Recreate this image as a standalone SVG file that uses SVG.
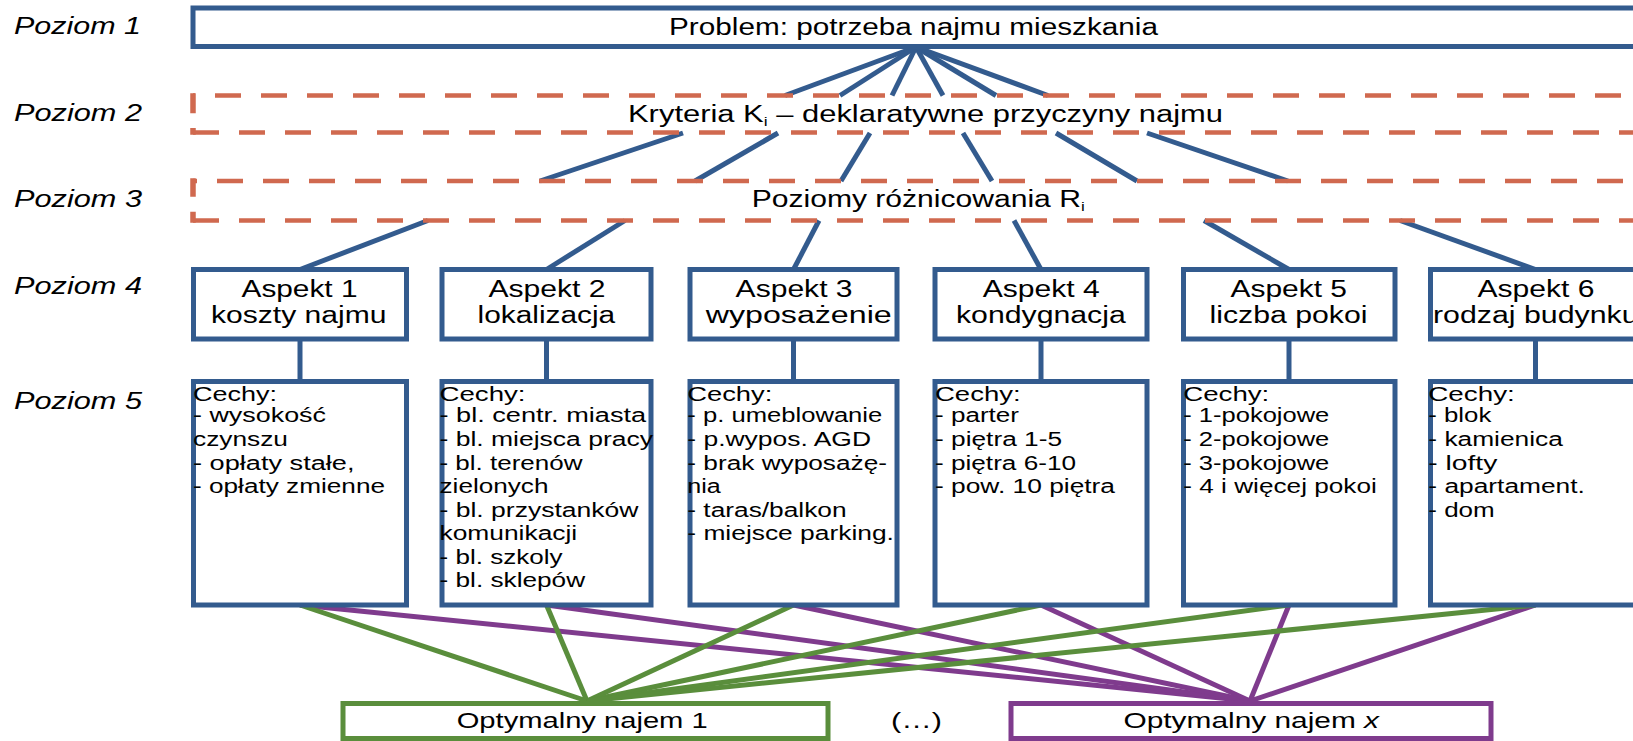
<svg xmlns="http://www.w3.org/2000/svg" width="1633" height="741" viewBox="0 0 1633 741">
<style>
text{font-family:"Liberation Sans",Arial,sans-serif;fill:#000}
.poz{font-style:italic;font-size:23.5px}
.hd{font-size:23px}
.asp{font-size:23.5px}
.ce{font-size:20px}
.opt{font-size:21.5px}
.box{fill:#fff;stroke:#335B8E;stroke-width:5}
.dash{fill:none;stroke:#D0694F;stroke-width:4.7;stroke-dasharray:26 20}
.dsol{fill:none;stroke:#D0694F;stroke-width:5.5}
.cb{stroke:#335B8E;stroke-width:5;fill:none}
.cg{stroke:#5A8E3C;stroke-width:5;fill:none}
.cp{stroke:#7F3B8D;stroke-width:5;fill:none}
.gbox{fill:#fff;stroke:#5A8E3C;stroke-width:5}
.pbox{fill:#fff;stroke:#7F3B8D;stroke-width:5}
</style>
<rect width="1633" height="741" fill="#fff"/>

<g id="connectors">
  <g id="c-l1-l2">
    <line class="cb" x1="916" y1="47" x2="785" y2="95.5"/>
    <line class="cb" x1="916" y1="47" x2="840" y2="95.5"/>
    <line class="cb" x1="916" y1="47" x2="892" y2="95.5"/>
    <line class="cb" x1="916" y1="47" x2="943" y2="95.5"/>
    <line class="cb" x1="916" y1="47" x2="996" y2="95.5"/>
    <line class="cb" x1="916" y1="47" x2="1048" y2="95.5"/>
  </g>
  <g id="c-l2-l3">
    <line class="cb" x1="683" y1="133" x2="540" y2="181"/>
    <line class="cb" x1="778" y1="133" x2="695" y2="181"/>
    <line class="cb" x1="870" y1="133" x2="841" y2="181"/>
    <line class="cb" x1="963" y1="133" x2="992" y2="181"/>
    <line class="cb" x1="1056" y1="133" x2="1137" y2="181"/>
    <line class="cb" x1="1147" y1="133" x2="1288" y2="181"/>
  </g>
  <g id="c-l3-l4">
    <line class="cb" x1="428" y1="220.5" x2="300" y2="269.5"/>
    <line class="cb" x1="625" y1="220.5" x2="546.5" y2="269.5"/>
    <line class="cb" x1="819" y1="220.5" x2="793.5" y2="269.5"/>
    <line class="cb" x1="1014" y1="220.5" x2="1041" y2="269.5"/>
    <line class="cb" x1="1204" y1="220.5" x2="1289" y2="269.5"/>
    <line class="cb" x1="1400" y1="220.5" x2="1535.5" y2="269.5"/>
  </g>
  <g id="c-l4-l5">
    <line class="cb" x1="300" y1="339" x2="300" y2="381.5"/>
    <line class="cb" x1="546.5" y1="339" x2="546.5" y2="381.5"/>
    <line class="cb" x1="793.5" y1="339" x2="793.5" y2="381.5"/>
    <line class="cb" x1="1041" y1="339" x2="1041" y2="381.5"/>
    <line class="cb" x1="1289" y1="339" x2="1289" y2="381.5"/>
    <line class="cb" x1="1535.5" y1="339" x2="1535.5" y2="381.5"/>
  </g>
  <g id="c-l5-optx">
    <line class="cp" x1="300" y1="605" x2="1250" y2="701"/>
    <line class="cp" x1="546.5" y1="605" x2="1250" y2="701"/>
    <line class="cp" x1="793.5" y1="605" x2="1250" y2="701"/>
    <line class="cp" x1="1041" y1="605" x2="1250" y2="701"/>
    <line class="cp" x1="1289" y1="605" x2="1250" y2="701"/>
    <line class="cp" x1="1535.5" y1="605" x2="1250" y2="701"/>
  </g>
  <g id="c-l5-opt1">
    <line class="cg" x1="300" y1="605" x2="587" y2="701"/>
    <line class="cg" x1="546.5" y1="605" x2="587" y2="701"/>
    <line class="cg" x1="793.5" y1="605" x2="587" y2="701"/>
    <line class="cg" x1="1041" y1="605" x2="587" y2="701"/>
    <line class="cg" x1="1289" y1="605" x2="587" y2="701"/>
    <line class="cg" x1="1535.5" y1="605" x2="587" y2="701"/>
  </g>
</g>

<g id="level-labels">
  <text class="poz" x="14" y="34" textLength="127" lengthAdjust="spacingAndGlyphs">Poziom 1</text>
  <text class="poz" x="14" y="120.7" textLength="128" lengthAdjust="spacingAndGlyphs">Poziom 2</text>
  <text class="poz" x="14" y="207.3" textLength="128" lengthAdjust="spacingAndGlyphs">Poziom 3</text>
  <text class="poz" x="14" y="294.3" textLength="128" lengthAdjust="spacingAndGlyphs">Poziom 4</text>
  <text class="poz" x="14" y="409.3" textLength="128" lengthAdjust="spacingAndGlyphs">Poziom 5</text>
</g>

<g id="n-problem">
  <rect class="box" x="193" y="8" width="1460" height="38.5"/>
  <text class="hd" x="669" y="35" textLength="489" lengthAdjust="spacingAndGlyphs">Problem: potrzeba najmu mieszkania</text>
</g>

<g id="n-kryteria">
  <path class="dsol" d="M193,93.3V113.3M193,128V134.8"/>
  <path class="dash" d="M193,95.5H1650" stroke-dashoffset="24"/>
  <path class="dash" d="M193,132.5H1650"/>
  <text class="hd" x="628" y="121.7" textLength="595" lengthAdjust="spacingAndGlyphs">Kryteria K<tspan font-size="13" dy="4">i</tspan><tspan dy="-4"> – deklaratywne przyczyny najmu</tspan></text>
</g>

<g id="n-poziomy">
  <path class="dsol" d="M193,178.3V196.7M193,211.7V222.8"/>
  <path class="dash" d="M193,181H1650" stroke-dashoffset="22"/>
  <path class="dash" d="M193,220.5H1650"/>
  <text class="hd" x="751.7" y="206.7" textLength="333" lengthAdjust="spacingAndGlyphs">Poziomy różnicowania R<tspan font-size="13" dy="4">i</tspan></text>
</g>

<g id="n-aspekt1">
  <rect class="box" x="193.5" y="269.5" width="213" height="69.5"/>
  <text class="asp" x="241.5" y="296.7" textLength="116" lengthAdjust="spacingAndGlyphs">Aspekt 1</text>
  <text class="asp" x="211" y="323.3" textLength="175.4" lengthAdjust="spacingAndGlyphs">koszty najmu</text>
</g>
<g id="n-aspekt2">
  <rect class="box" x="442" y="269.5" width="209" height="69.5"/>
  <text class="asp" x="488.5" y="296.7" textLength="117" lengthAdjust="spacingAndGlyphs">Aspekt 2</text>
  <text class="asp" x="477.5" y="323.3" textLength="137.7" lengthAdjust="spacingAndGlyphs">lokalizacja</text>
</g>
<g id="n-aspekt3">
  <rect class="box" x="690" y="269.5" width="207" height="69.5"/>
  <text class="asp" x="735.6" y="296.7" textLength="117" lengthAdjust="spacingAndGlyphs">Aspekt 3</text>
  <text class="asp" x="705.7" y="323.3" textLength="186" lengthAdjust="spacingAndGlyphs">wyposażenie</text>
</g>
<g id="n-aspekt4">
  <rect class="box" x="935" y="269.5" width="212" height="69.5"/>
  <text class="asp" x="982.7" y="296.7" textLength="117" lengthAdjust="spacingAndGlyphs">Aspekt 4</text>
  <text class="asp" x="956" y="323.3" textLength="169.7" lengthAdjust="spacingAndGlyphs">kondygnacja</text>
</g>
<g id="n-aspekt5">
  <rect class="box" x="1183.5" y="269.5" width="211.5" height="69.5"/>
  <text class="asp" x="1230.5" y="296.7" textLength="116.5" lengthAdjust="spacingAndGlyphs">Aspekt 5</text>
  <text class="asp" x="1209.5" y="323.3" textLength="158" lengthAdjust="spacingAndGlyphs">liczba pokoi</text>
</g>
<g id="n-aspekt6">
  <rect class="box" x="1430.5" y="269.5" width="213" height="69.5"/>
  <text class="asp" x="1477.4" y="296.7" textLength="117" lengthAdjust="spacingAndGlyphs">Aspekt 6</text>
  <text class="asp" x="1433" y="323.3" textLength="205.5" lengthAdjust="spacingAndGlyphs">rodzaj budynku</text>
</g>

<g id="n-cechy1">
  <rect class="box" x="193.5" y="381.5" width="213" height="223.5"/>
  <text class="ce" x="193" y="400.5" textLength="84" lengthAdjust="spacingAndGlyphs">Cechy:</text>
  <text class="ce" x="193" y="422" textLength="133" lengthAdjust="spacingAndGlyphs">- wysokość</text>
  <text class="ce" x="193" y="445.5" textLength="95" lengthAdjust="spacingAndGlyphs">czynszu</text>
  <text class="ce" x="193" y="469.5" textLength="161.5" lengthAdjust="spacingAndGlyphs">- opłaty stałe,</text>
  <text class="ce" x="193" y="493" textLength="192" lengthAdjust="spacingAndGlyphs">- opłaty zmienne</text>
</g>
<g id="n-cechy2">
  <rect class="box" x="442" y="381.5" width="209" height="223.5"/>
  <text class="ce" x="439.5" y="400.5" textLength="86" lengthAdjust="spacingAndGlyphs">Cechy:</text>
  <text class="ce" x="439.5" y="422" textLength="206.6" lengthAdjust="spacingAndGlyphs">- bl. centr. miasta</text>
  <text class="ce" x="439.5" y="445.5" textLength="213.5" lengthAdjust="spacingAndGlyphs">- bl. miejsca pracy</text>
  <text class="ce" x="439.5" y="469.5" textLength="143" lengthAdjust="spacingAndGlyphs">- bl. terenów</text>
  <text class="ce" x="439.5" y="493" textLength="109" lengthAdjust="spacingAndGlyphs">zielonych</text>
  <text class="ce" x="439.5" y="516.5" textLength="199" lengthAdjust="spacingAndGlyphs">- bl. przystanków</text>
  <text class="ce" x="439.5" y="540" textLength="137.7" lengthAdjust="spacingAndGlyphs">komunikacji</text>
  <text class="ce" x="439.5" y="563.5" textLength="123" lengthAdjust="spacingAndGlyphs">- bl. szkoly</text>
  <text class="ce" x="439.5" y="587" textLength="145.6" lengthAdjust="spacingAndGlyphs">- bl. sklepów</text>
</g>
<g id="n-cechy3">
  <rect class="box" x="690" y="381.5" width="207" height="223.5"/>
  <text class="ce" x="687.3" y="400.5" textLength="85" lengthAdjust="spacingAndGlyphs">Cechy:</text>
  <text class="ce" x="687.3" y="422" textLength="195" lengthAdjust="spacingAndGlyphs">- p. umeblowanie</text>
  <text class="ce" x="687.3" y="445.5" textLength="183.7" lengthAdjust="spacingAndGlyphs">- p.wypos. AGD</text>
  <text class="ce" x="687.3" y="469.5" textLength="199.7" lengthAdjust="spacingAndGlyphs">- brak wyposażę-</text>
  <text class="ce" x="687.3" y="493" textLength="33.5" lengthAdjust="spacingAndGlyphs">nia</text>
  <text class="ce" x="687.3" y="516.5" textLength="159.3" lengthAdjust="spacingAndGlyphs">- taras/balkon</text>
  <text class="ce" x="687.3" y="540" textLength="206.6" lengthAdjust="spacingAndGlyphs">- miejsce parking.</text>
</g>
<g id="n-cechy4">
  <rect class="box" x="935" y="381.5" width="212" height="223.5"/>
  <text class="ce" x="935" y="400.5" textLength="85.6" lengthAdjust="spacingAndGlyphs">Cechy:</text>
  <text class="ce" x="935" y="422" textLength="84" lengthAdjust="spacingAndGlyphs">- parter</text>
  <text class="ce" x="935" y="445.5" textLength="127" lengthAdjust="spacingAndGlyphs">- piętra 1-5</text>
  <text class="ce" x="935" y="469.5" textLength="141" lengthAdjust="spacingAndGlyphs">- piętra 6-10</text>
  <text class="ce" x="935" y="493" textLength="180" lengthAdjust="spacingAndGlyphs">- pow. 10 piętra</text>
</g>
<g id="n-cechy5">
  <rect class="box" x="1183.5" y="381.5" width="211.5" height="223.5"/>
  <text class="ce" x="1183.3" y="400.5" textLength="86" lengthAdjust="spacingAndGlyphs">Cechy:</text>
  <text class="ce" x="1183.3" y="422" textLength="146" lengthAdjust="spacingAndGlyphs">- 1-pokojowe</text>
  <text class="ce" x="1183.3" y="445.5" textLength="146" lengthAdjust="spacingAndGlyphs">- 2-pokojowe</text>
  <text class="ce" x="1183.3" y="469.5" textLength="146" lengthAdjust="spacingAndGlyphs">- 3-pokojowe</text>
  <text class="ce" x="1183.3" y="493" textLength="193.5" lengthAdjust="spacingAndGlyphs">- 4 i więcej pokoi</text>
</g>
<g id="n-cechy6">
  <rect class="box" x="1430.5" y="381.5" width="213" height="223.5"/>
  <text class="ce" x="1428.3" y="400.5" textLength="86.5" lengthAdjust="spacingAndGlyphs">Cechy:</text>
  <text class="ce" x="1428.3" y="422" textLength="63" lengthAdjust="spacingAndGlyphs">- blok</text>
  <text class="ce" x="1428.3" y="445.5" textLength="134.6" lengthAdjust="spacingAndGlyphs">- kamienica</text>
  <text class="ce" x="1428.3" y="469.5" textLength="69" lengthAdjust="spacingAndGlyphs">- lofty</text>
  <text class="ce" x="1428.3" y="493" textLength="156.6" lengthAdjust="spacingAndGlyphs">- apartament.</text>
  <text class="ce" x="1428.3" y="516.5" textLength="66.4" lengthAdjust="spacingAndGlyphs">- dom</text>
</g>

<g id="n-opt1">
  <rect class="gbox" x="343" y="703.5" width="485" height="35"/>
  <text class="opt" x="456.7" y="728" textLength="251" lengthAdjust="spacingAndGlyphs">Optymalny najem 1</text>
</g>
<g id="n-ellipsis">
  <text class="opt" x="891" y="728" textLength="51" lengthAdjust="spacingAndGlyphs">(…)</text>
</g>
<g id="n-optx">
  <rect class="pbox" x="1011" y="703.5" width="480" height="35"/>
  <text class="opt" x="1123.5" y="728" textLength="255.5" lengthAdjust="spacingAndGlyphs">Optymalny najem <tspan font-style="italic">x</tspan></text>
</g>
</svg>
